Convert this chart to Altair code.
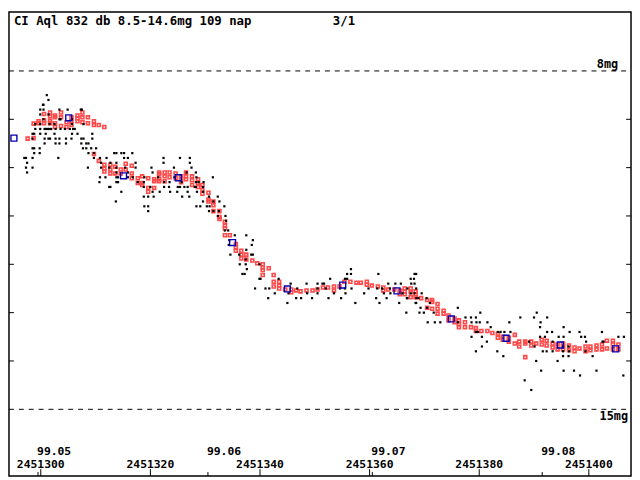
import pandas as pd
import altair as alt

JD0 = 2451300
TITLE = "CI Aql 832 db 8.5-14.6mg 109 nap"
PAGE = "3/1"
FONT = "DejaVu Sans Mono"

# single visual estimates (days after JD0, magnitude)
obs_day = [
    1.1,
    1.4,
    0.4, 0.5,
    -0.1, 0.5, 3.4, 4.9, 7.3, 7.5,
    -0.1, 1.4,
    0.5, 3.4, 3.6, 5.7,
    -1.0, -0.1, 1.6, 2.5, 5.7, 7.8,
    -1.0, -0.1, 0.7, 1.0, 1.3, 1.6, 1.9, 2.7, 3.6, 4.4, 5.3, 5.9, 6.2,
    -1.5, -1.2, -0.1, 0.9, 2.5, 5.7, 6.7, 9.4,
    -1.5, 0.7, 1.4, 1.7, 2.7, 3.4, 4.6, 5.6, 7.4, 7.8, 9.4,
    0.7, 2.7, 3.4, 4.6, 7.4, 8.3, 8.7,
    -1.5, -1.2, -0.2, 7.7, 8.3, 9.2, 10.1,
    -1.2, -0.2, 8.7, 9.7, 13.4, 13.8, 14.7, 15.2, 16.7,
    -3.0, -2.7, -1.5, 3.2, 9.7, 10.8, 12.0, 15.2, 15.9, 22.4, 25.4, 27.2,
    -2.5, 11.0, 12.7, 13.8, 17.3, 22.4, 27.2,
    -2.7, -1.5, 8.6, 11.0, 12.5, 13.8, 15.4, 17.3, 20.2, 24.3, 27.5,
    -2.5, 13.8, 15.9, 20.4, 26.6, 28.3,
    10.8, 11.8, 13.8, 14.1, 15.9, 16.8, 18.9, 21.4, 24.4, 28.4, 31.4,
    10.7, 13.8, 14.1, 17.7, 18.8, 22.5, 23.5, 25.7, 28.3, 28.8, 29.7,
    12.5, 12.7, 18.8, 20.0, 22.5, 23.4, 25.0, 25.4, 26.2, 26.8, 28.1, 28.3, 29.6,
    14.7, 20.4, 21.7, 23.6, 24.9, 26.8, 28.5, 29.6,
    18.8, 19.6, 20.6, 25.8, 27.1, 30.7, 32.3,
    13.7, 29.6, 31.5, 32.6,
    18.9, 19.6, 28.4, 29.1, 30.3, 30.8, 33.5,
    19.6, 30.7, 31.5, 32.5,
    32.3, 33.7,
    33.8,
    33.6, 34.2,
    35.4, 37.5,
    34.4, 38.7,
    34.3, 38.5,
    37.5,
    34.6, 36.2, 38.4, 38.7,
    37.4,
    36.3, 37.4, 39.9,
    37.6, 56.6,
    36.8, 37.2, 55.9, 56.6, 61.6, 68.2, 68.5,
    39.9, 40.1, 43.4, 52.8, 55.5, 55.9, 67.5, 68.1,
    45.6, 48.5, 50.5, 51.4, 51.7, 63.4, 64.7, 65.7, 67.6, 68.2,
    39.1, 41.0, 41.7, 46.8, 50.5, 52.0, 54.6, 55.5, 56.7, 59.8, 61.4, 62.3, 63.7, 66.9, 68.5,
    42.7, 45.2, 48.6, 50.5, 53.5, 55.6, 59.0, 62.6, 63.8, 66.0, 67.5, 68.2, 69.5,
    41.5, 46.6, 47.5, 49.5, 52.5, 54.8, 61.2, 63.1, 66.8, 66.9, 68.5, 68.9, 70.4,
    45.0, 57.4, 61.8, 65.4, 68.4, 68.5, 71.0,
    69.3, 70.5, 76.1,
    66.7, 69.1, 69.9, 71.7, 80.2, 90.5,
    77.5, 78.5, 79.4, 87.5, 90.0, 92.4,
    70.6, 71.9, 72.9, 76.1, 78.6, 79.5, 80.1, 81.5, 85.5, 91.2,
    82.1, 91.1, 95.4,
    79.4, 79.8, 83.4, 83.9, 84.6, 85.7, 92.4, 93.3, 96.5, 98.3, 102.4,
    78.6, 80.5, 91.1, 92.0, 94.5, 95.4, 98.6, 99.3, 105.4, 106.4,
    81.4, 89.1, 93.4, 99.5, 102.5, 102.7,
    80.5, 90.1, 95.3, 96.3,
    79.4, 83.3, 91.6, 92.3, 93.4, 95.3, 96.4, 99.4,
    84.4, 95.3, 96.3, 100.7,
    90.4, 94.3,
    91.3, 95.4, 97.3, 101.4,
    98.4, 106.3,
    88.3,
    89.5,
]
obs_mag = [
    8.5,
    8.6,
    8.7, 8.7,
    8.8, 8.8, 8.8, 8.8, 8.8, 8.8,
    8.9, 8.9,
    9.0, 9.0, 9.0, 9.0,
    9.1, 9.1, 9.1, 9.1, 9.1, 9.1,
    9.2, 9.2, 9.2, 9.2, 9.2, 9.2, 9.2, 9.2, 9.2, 9.2, 9.2, 9.2, 9.2,
    9.3, 9.3, 9.3, 9.3, 9.3, 9.3, 9.3, 9.3,
    9.4, 9.4, 9.4, 9.4, 9.4, 9.4, 9.4, 9.4, 9.4, 9.4, 9.4,
    9.5, 9.5, 9.5, 9.5, 9.5, 9.5, 9.5,
    9.6, 9.6, 9.6, 9.6, 9.6, 9.6, 9.6,
    9.7, 9.7, 9.7, 9.7, 9.7, 9.7, 9.7, 9.7, 9.7,
    9.8, 9.8, 9.8, 9.8, 9.8, 9.8, 9.8, 9.8, 9.8, 9.8, 9.8, 9.8,
    9.9, 9.9, 9.9, 9.9, 9.9, 9.9, 9.9,
    10.0, 10.0, 10.0, 10.0, 10.0, 10.0, 10.0, 10.0, 10.0, 10.0, 10.0,
    10.1, 10.1, 10.1, 10.1, 10.1, 10.1,
    10.2, 10.2, 10.2, 10.2, 10.2, 10.2, 10.2, 10.2, 10.2, 10.2, 10.2,
    10.3, 10.3, 10.3, 10.3, 10.3, 10.3, 10.3, 10.3, 10.3, 10.3, 10.3,
    10.4, 10.4, 10.4, 10.4, 10.4, 10.4, 10.4, 10.4, 10.4, 10.4, 10.4, 10.4, 10.4,
    10.5, 10.5, 10.5, 10.5, 10.5, 10.5, 10.5, 10.5,
    10.6, 10.6, 10.6, 10.6, 10.6, 10.6, 10.6,
    10.7, 10.7, 10.7, 10.7,
    10.8, 10.8, 10.8, 10.8, 10.8, 10.8, 10.8,
    10.9, 10.9, 10.9, 10.9,
    11.0, 11.0,
    11.1,
    11.3, 11.3,
    11.4, 11.4,
    11.5, 11.5,
    11.6, 11.6,
    11.7,
    11.8, 11.8, 11.8, 11.8,
    11.9,
    12.0, 12.0, 12.0,
    12.1, 12.1,
    12.2, 12.2, 12.2, 12.2, 12.2, 12.2, 12.2,
    12.3, 12.3, 12.3, 12.3, 12.3, 12.3, 12.3, 12.3,
    12.4, 12.4, 12.4, 12.4, 12.4, 12.4, 12.4, 12.4, 12.4, 12.4,
    12.5, 12.5, 12.5, 12.5, 12.5, 12.5, 12.5, 12.5, 12.5, 12.5, 12.5, 12.5, 12.5, 12.5, 12.5,
    12.6, 12.6, 12.6, 12.6, 12.6, 12.6, 12.6, 12.6, 12.6, 12.6, 12.6, 12.6, 12.6,
    12.7, 12.7, 12.7, 12.7, 12.7, 12.7, 12.7, 12.7, 12.7, 12.7, 12.7, 12.7, 12.7,
    12.8, 12.8, 12.8, 12.8, 12.8, 12.8, 12.8,
    12.9, 12.9, 12.9,
    13.0, 13.0, 13.0, 13.0, 13.0, 13.0,
    13.1, 13.1, 13.1, 13.1, 13.1, 13.1,
    13.2, 13.2, 13.2, 13.2, 13.2, 13.2, 13.2, 13.2, 13.2, 13.2,
    13.3, 13.3, 13.3,
    13.4, 13.4, 13.4, 13.4, 13.4, 13.4, 13.4, 13.4, 13.4, 13.4, 13.4,
    13.5, 13.5, 13.5, 13.5, 13.5, 13.5, 13.5, 13.5, 13.5, 13.5,
    13.6, 13.6, 13.6, 13.6, 13.6, 13.6,
    13.7, 13.7, 13.7, 13.7,
    13.8, 13.8, 13.8, 13.8, 13.8, 13.8, 13.8, 13.8,
    13.9, 13.9, 13.9, 13.9,
    14.0, 14.0,
    14.2, 14.2, 14.2, 14.2,
    14.3, 14.3,
    14.4,
    14.6,
]

# red running means
red_day = [
    -2.4,
    -1.3, -1.3,
    -0.4, -0.4,
    0.6, 0.6, 0.6,
    1.7, 1.7, 1.7, 1.7,
    2.6, 2.6, 2.6, 2.6,
    3.7, 3.7, 3.7,
    4.7, 4.7,
    5.6, 5.6, 5.6,
    6.7, 6.7, 6.7,
    7.6, 7.6, 7.6,
    8.6, 8.6,
    9.7, 9.7, 9.7,
    10.6, 10.6,
    11.6, 11.6, 11.6, 11.6,
    12.7, 12.7, 12.7,
    13.6, 13.6,
    14.6, 14.6,
    15.5, 15.5,
    16.6, 16.6, 16.6,
    17.7, 17.7,
    18.5, 18.5, 18.5,
    19.6, 19.6, 19.6,
    20.7, 20.7, 20.7,
    21.6, 21.6, 21.6, 21.6,
    22.6, 22.6, 22.6,
    23.5, 23.5,
    24.6, 24.6,
    25.6, 25.6, 25.6,
    26.5, 26.5, 26.5,
    27.6, 27.6, 27.6,
    28.7, 28.7, 28.7,
    29.5, 29.5, 29.5,
    30.6, 30.6, 30.6,
    31.5, 31.5, 31.5,
    32.6, 32.6, 32.6,
    33.6, 33.6, 33.6, 33.6,
    34.5,
    35.6, 35.6, 35.6,
    36.6, 36.6, 36.6,
    37.5, 37.5,
    38.6,
    39.5,
    40.5, 40.5, 40.5, 40.5,
    41.6,
    42.5, 42.5, 42.5,
    43.5, 43.5, 43.5,
    44.6,
    45.7, 45.7,
    46.6,
    47.4,
    48.5,
    49.6,
    50.5,
    51.5,
    52.4,
    53.5, 53.5,
    54.5,
    55.4,
    56.5,
    57.6,
    58.4,
    59.5, 59.5,
    60.4,
    61.5,
    62.5, 62.5,
    63.4,
    64.5,
    65.5, 65.5,
    66.4, 66.4, 66.4,
    67.5, 67.5, 67.5,
    68.4, 68.4, 68.4,
    69.4,
    70.5, 70.5,
    71.4, 71.4, 71.4,
    72.4, 72.4, 72.4,
    73.5, 73.5,
    74.4, 74.4,
    75.5, 75.5,
    76.3, 76.3, 76.3,
    77.4, 77.4,
    78.5,
    79.4, 79.4,
    80.4,
    81.5,
    82.4,
    83.4, 83.4,
    84.3, 84.3,
    85.4, 85.4,
    86.5, 86.5,
    87.3, 87.3,
    88.4, 88.4, 88.4,
    89.5, 89.5,
    90.4,
    91.4, 91.4,
    92.3, 92.3,
    93.4, 93.4,
    94.3, 94.3,
    95.3, 95.3, 95.3,
    96.4, 96.4,
    97.4, 97.4,
    98.3,
    99.4, 99.4,
    100.3, 100.3,
    101.4, 101.4,
    102.4, 102.4,
    103.3, 103.3,
    104.4, 104.4, 104.4,
    105.4, 105.4,
]
red_mag = [
    9.40,
    9.39, 9.09,
    9.04, 9.08,
    8.89, 9.02, 9.08,
    8.86, 8.94, 9.04, 9.08,
    8.92, 8.96, 9.08, 9.16,
    8.86, 8.96, 9.14,
    9.06, 9.16,
    8.96, 9.04, 9.12,
    8.92, 8.98, 9.04,
    8.86, 8.96, 9.06,
    8.96, 9.08,
    9.04, 9.12, 9.72,
    9.12, 9.86,
    9.16, 9.94, 10.02, 10.08,
    9.94, 10.04, 10.12,
    9.98, 10.12,
    10.04, 10.12,
    9.92, 10.04,
    9.96, 10.12, 10.22,
    10.22, 10.32,
    10.18, 10.32, 10.36,
    10.22, 10.42, 10.50,
    10.24, 10.28, 10.42,
    10.10, 10.14, 10.24, 10.28,
    10.10, 10.18, 10.28,
    10.10, 10.20,
    10.12, 10.22,
    10.18, 10.24, 10.30,
    10.10, 10.18, 10.24,
    10.18, 10.26, 10.36,
    10.24, 10.32, 10.40,
    10.36, 10.46, 10.54,
    10.52, 10.66, 10.70,
    10.70, 10.78, 10.90,
    10.90, 11.02, 11.06,
    11.12, 11.20, 11.26, 11.40,
    11.40,
    11.58, 11.65, 11.72,
    11.72, 11.80, 11.88,
    11.80, 11.90,
    11.92,
    11.98,
    12.00, 12.06, 12.12, 12.22,
    12.08,
    12.22, 12.36, 12.46,
    12.36, 12.44, 12.50,
    12.52,
    12.52, 12.58,
    12.54,
    12.56,
    12.54,
    12.54,
    12.52,
    12.48,
    12.48,
    12.46, 12.54,
    12.46,
    12.36,
    12.36,
    12.38,
    12.38,
    12.36, 12.42,
    12.44,
    12.46,
    12.48, 12.54,
    12.52,
    12.52,
    12.54, 12.62,
    12.50, 12.56, 12.62,
    12.50, 12.58, 12.68,
    12.56, 12.62, 12.68,
    12.70,
    12.74, 12.90,
    12.74, 12.78, 12.92,
    12.82, 12.92, 13.02,
    12.96, 13.02,
    13.06, 13.16,
    13.12, 13.20,
    13.16, 13.24, 13.30,
    13.20, 13.30,
    13.30,
    13.32, 13.38,
    13.38,
    13.38,
    13.42,
    13.44, 13.52,
    13.50, 13.56,
    13.52, 13.60,
    13.46, 13.64,
    13.60, 13.70,
    13.60, 13.64, 13.92,
    13.60, 13.68,
    13.64,
    13.56, 13.66,
    13.58, 13.68,
    13.64, 13.72,
    13.66, 13.76,
    13.64, 13.70, 13.76,
    13.68, 13.78,
    13.72, 13.80,
    13.74,
    13.70, 13.80,
    13.70, 13.78,
    13.68, 13.76,
    13.66, 13.76,
    13.58, 13.74,
    13.58, 13.66, 13.76,
    13.66, 13.76,
]

# blue 10-day means
blue_day = [-4.9, 5.1, 15.1, 25.1, 35.0, 45.0, 55.1, 65.0, 74.9, 84.9, 94.8, 104.9]
blue_mag = [9.39, 8.97, 10.17, 10.21, 11.55, 12.51, 12.43, 12.55, 13.13, 13.53, 13.67, 13.75]

limit_mags = [8, 15]
side_tick_mags = [9, 10, 11, 12, 13, 14]
jd_tick_days = [0, 20, 40, 60, 80, 100]
month_tick_days = [-0.5, 30.5, 60.5, 91.5]
month_labels = ["99.05", "99.06", "99.07", "99.08"]

W, H = 630, 470
xs = alt.Scale(domain=[-5.8, 107.7], nice=False, zero=False)
ys = alt.Scale(domain=[6.78, 16.38], reverse=True, nice=False, zero=False)

obs = pd.DataFrame({"day": obs_day, "mag": obs_mag})
red = pd.DataFrame({"day": red_day, "mag": red_mag})
blue = pd.DataFrame({"day": blue_day, "mag": blue_mag})
jd_ticks = pd.DataFrame({"day": jd_tick_days,
                         "label": [str(JD0 + d) for d in jd_tick_days]})
months = pd.DataFrame({"day": month_tick_days, "label": month_labels})
sides = pd.DataFrame({"mag": side_tick_mags})
limits = pd.DataFrame({"mag": limit_mags, "label": ["8mg", "15mg"]})

X = alt.X("day:Q", scale=xs, axis=None)
Y = alt.Y("mag:Q", scale=ys, axis=None)

dashed = alt.Chart(limits).mark_rule(color="black", strokeDash=[5, 5]).encode(
    y=Y, x=alt.value(0), x2=alt.value(W))
left_ticks = alt.Chart(sides).mark_rule(color="black").encode(
    y=Y, x=alt.value(0), x2=alt.value(5))
right_ticks = alt.Chart(sides).mark_rule(color="black").encode(
    y=Y, x=alt.value(W - 5), x2=alt.value(W))
bottom_jd = alt.Chart(jd_ticks).mark_rule(color="black").encode(
    x=X, y=alt.value(H - 7), y2=alt.value(H))
bottom_mon = alt.Chart(months).mark_rule(color="black").encode(
    x=X, y=alt.value(H - 4), y2=alt.value(H))

txt = dict(font=FONT, fontWeight="bold", color="black", baseline="middle")
jd_text = alt.Chart(jd_ticks).mark_text(align="center", fontSize=11.5, **txt).encode(
    x=X, y=alt.value(459), text="label:N")
mon_text = alt.Chart(months).mark_text(align="left", dx=-1, fontSize=11.5, **txt).encode(
    x=X, y=alt.value(446), text="label:N")
lim8 = alt.Chart(limits[limits.mag == 8]).mark_text(align="right", dy=-7, fontSize=12, **txt).encode(
    y=Y, x=alt.value(617), text="label:N")
lim15 = alt.Chart(limits[limits.mag == 15]).mark_text(align="right", dy=7, fontSize=12, **txt).encode(
    y=Y, x=alt.value(627), text="label:N")
title = alt.Chart(pd.DataFrame({"t": [TITLE]})).mark_text(align="left", fontSize=12.5, **txt).encode(
    x=alt.value(5), y=alt.value(9), text="t:N")
page = alt.Chart(pd.DataFrame({"t": [PAGE]})).mark_text(align="left", fontSize=12.5, **txt).encode(
    x=alt.value(328), y=alt.value(9), text="t:N")

red_pts = alt.Chart(red).mark_point(shape="square", size=9, filled=False,
                                    color="#ff4848", strokeWidth=1.6, opacity=1).encode(x=X, y=Y)
obs_pts = alt.Chart(obs).mark_square(size=5, color="black", opacity=1).encode(x=X, y=Y)
blue_pts = alt.Chart(blue).mark_point(shape="square", size=36, filled=False,
                                      color="#0000b4", strokeWidth=1.4, opacity=1).encode(x=X, y=Y)

chart = alt.layer(
    dashed, left_ticks, right_ticks, bottom_jd, bottom_mon,
    jd_text, mon_text, lim8, lim15, title, page,
    red_pts, obs_pts, blue_pts,
).properties(
    width=W, height=H, padding=1, autosize="none", background="white"
).configure_view(stroke="black", strokeWidth=1.5)

chart.save("out.html", embed_options={"renderer": "svg", "actions": False})
